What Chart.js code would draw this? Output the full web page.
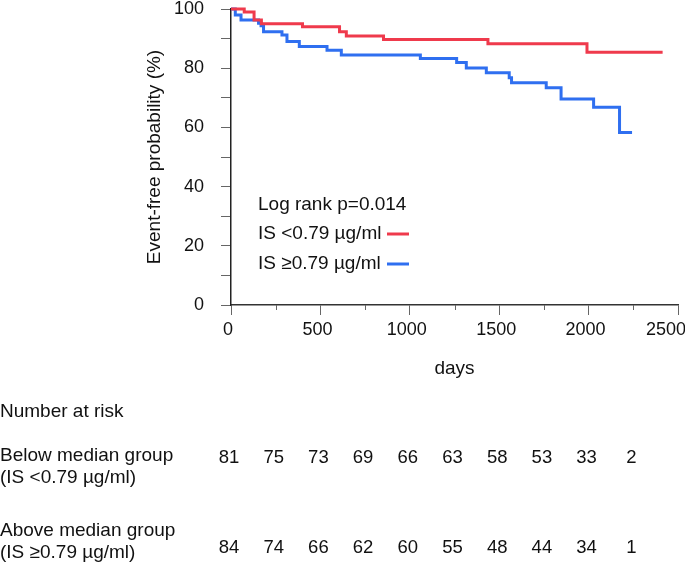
<!DOCTYPE html>
<html>
<head>
<meta charset="utf-8">
<script src="https://cdn.jsdelivr.net/npm/chart.js@4"></script>
<style>
  html, body { margin: 0; padding: 0; background: #fff; }
  #wrap { width: 685px; height: 565px; }
</style>
</head>
<body>
<div id="wrap"><canvas id="kmChart" width="685" height="565"></canvas></div>
<script>
// Kaplan-Meier steps (days, % event-free)
const lowTimes = [0, 74, 129, 170, 400, 607, 645, 853, 1437, 1991, 2414];
const lowSurv = [100, 99.0, 96.3, 95.0, 94.0, 92.3, 90.9, 89.7, 88.3, 85.4, 85.4];
const highTimes = [0, 24, 56, 154, 168, 182, 285, 313, 382, 537, 617, 1059, 1262, 1316, 1428, 1556, 1569, 1763, 1846, 2028, 2173, 2243];
const highSurv = [100, 98.0, 96.3, 95.2, 94.3, 92.3, 91.2, 89.0, 87.3, 86.1, 84.5, 83.3, 81.9, 80.1, 78.5, 76.8, 75.1, 73.4, 69.6, 66.8, 58.3, 58.3];

const seriesLabels = ['IS <0.79 µg/ml', 'IS ≥0.79 µg/ml'];
const logRankText = 'Log rank p=0.014';

// number at risk table
const riskDays = [0, 250, 500, 750, 1000, 1250, 1500, 1750, 2000, 2250];
const riskBelow = [81, 75, 73, 69, 66, 63, 58, 53, 33, 2];
const riskAbove = [84, 74, 66, 62, 60, 55, 48, 44, 34, 1];
const riskTitle = 'Number at risk';
const riskRowLabels = [
    ['Below median group', '(IS <0.79 µg/ml)'],
    ['Above median group', '(IS ≥0.79 µg/ml)']
];

const FONT = '"Liberation Sans", Arial, sans-serif';
const TEXT = '#111';
const X_MAX = 2500;

function toPoints(times, surv) {
    return times.map((t, i) => ({ x: t, y: surv[i] }));
}

const extrasPlugin = {
    id: 'kmExtras',
    afterDraw(chart) {
        const { ctx, scales: { x, y } } = chart;
        ctx.save();

        // short minor ticks on the x axis
        ctx.strokeStyle = '#666';
        ctx.lineWidth = 1;
        x.ticks.forEach((tick) => {
            if (tick.value % 500 === 0) return;
            const px = Math.round(x.getPixelForValue(tick.value)) + 0.5;
            ctx.beginPath();
            ctx.moveTo(px, y.bottom);
            ctx.lineTo(px, y.bottom + 5);
            ctx.stroke();
        });

        // last x label is pushed inwards, as in the original
        ctx.font = '18px ' + FONT;
        ctx.fillStyle = TEXT;
        ctx.textAlign = 'center';
        ctx.textBaseline = 'middle';
        ctx.fillText(String(X_MAX), x.getPixelForValue(X_MAX) - 12, y.bottom + 14 + 10.8);

        // in-plot legend
        ctx.font = '19px ' + FONT;
        ctx.textAlign = 'left';
        ctx.fillText(logRankText, 258, 205);
        const rowY = [234, 264];
        chart.data.datasets.forEach((ds, i) => {
            ctx.fillStyle = TEXT;
            ctx.fillText(seriesLabels[i], 258, rowY[i]);
            ctx.strokeStyle = ds.borderColor;
            ctx.lineWidth = 3;
            ctx.beginPath();
            ctx.moveTo(387, rowY[i]);
            ctx.lineTo(409, rowY[i]);
            ctx.stroke();
        });

        // number at risk table
        ctx.fillStyle = TEXT;
        ctx.fillText(riskTitle, 0, 412);
        ctx.fillText(riskRowLabels[0][0], 0, 456);
        ctx.fillText(riskRowLabels[0][1], 0, 478);
        ctx.fillText(riskRowLabels[1][0], 0, 531);
        ctx.fillText(riskRowLabels[1][1], 0, 553);
        ctx.font = '18.5px ' + FONT;
        ctx.textAlign = 'center';
        riskDays.forEach((d, i) => {
            const px = x.getPixelForValue(d) - 2;
            ctx.fillText(String(riskBelow[i]), px, 458);
            ctx.fillText(String(riskAbove[i]), px, 548);
        });

        ctx.restore();
    }
};

new Chart(document.getElementById('kmChart'), {
    type: 'line',
    data: {
        datasets: [
            {
                label: seriesLabels[0],
                data: toPoints(lowTimes, lowSurv),
                borderColor: '#ef3a4c',
                borderWidth: 3,
                stepped: 'before',
                pointRadius: 0,
                fill: false,
                clip: false
            },
            {
                label: seriesLabels[1],
                data: toPoints(highTimes, highSurv),
                borderColor: '#2f6ff0',
                borderWidth: 3,
                stepped: 'before',
                pointRadius: 0,
                fill: false,
                clip: false
            }
        ]
    },
    options: {
        responsive: false,
        animation: false,
        layout: { padding: { left: 143, top: 9, right: 7, bottom: 185 } },
        plugins: {
            legend: { display: false },
            tooltip: { enabled: false }
        },
        scales: {
            x: {
                type: 'linear',
                min: 0,
                max: X_MAX,
                border: { display: true, color: '#333', width: 1.5 },
                grid: {
                    drawOnChartArea: false,
                    drawTicks: true,
                    tickLength: 10,
                    tickColor: (c) => (c.tick && c.tick.value % 500 === 0 ? '#666' : 'rgba(0,0,0,0)')
                },
                ticks: {
                    stepSize: 250,
                    autoSkip: false,
                    maxRotation: 0,
                    padding: 4,
                    labelOffset: -3,
                    color: TEXT,
                    font: { family: FONT, size: 18 },
                    callback: (v) => (v % 500 === 0 && v !== X_MAX ? v : '')
                },
                title: {
                    display: true,
                    text: 'days',
                    color: TEXT,
                    font: { family: FONT, size: 19 },
                    padding: { top: 0, bottom: 0 }
                },
                afterFit: (scale) => {
                    scale.height = 75;
                    scale.paddingLeft = 0;
                    scale.paddingRight = 0;
                }
            },
            y: {
                min: 0,
                max: 100,
                border: { display: true, color: '#222', width: 1.5 },
                grid: {
                    drawOnChartArea: false,
                    drawTicks: true,
                    tickLength: 10,
                    tickColor: '#666'
                },
                ticks: {
                    stepSize: 10,
                    autoSkip: false,
                    padding: 17,
                    color: TEXT,
                    font: { family: FONT, size: 18 },
                    callback: (v) => (v % 20 === 0 ? v : '')
                },
                title: {
                    display: true,
                    text: 'Event-free probability (%)',
                    color: TEXT,
                    font: { family: FONT, size: 19 },
                    padding: 0
                },
                afterFit: (scale) => {
                    scale.width = 88;
                    scale.paddingTop = 0;
                    scale.paddingBottom = 0;
                }
            }
        }
    },
    plugins: [extrasPlugin]
});
</script>
</body>
</html>
